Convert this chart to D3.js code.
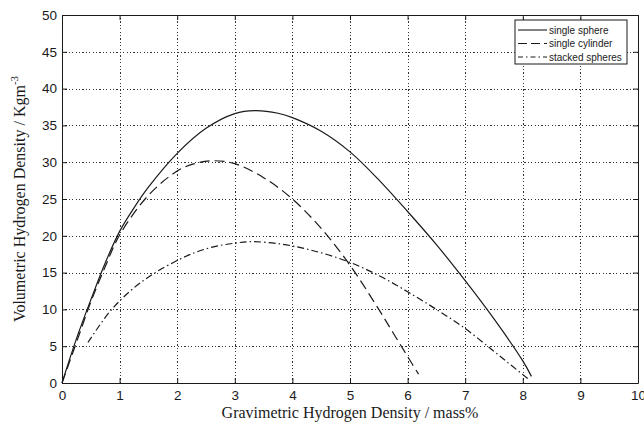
<!DOCTYPE html>
<html>
<head>
<meta charset="utf-8">
<script src="https://cdn.jsdelivr.net/npm/d3@7/dist/d3.min.js"></script>
<style>
  html, body { margin: 0; padding: 0; background: #fff; }
  svg { display: block; }
</style>
</head>
<body>
<svg id="chart" width="644" height="430"></svg>
<script>
// Gravimetric density (mass%) and volumetric density (kg m^-3) per storage geometry
const sphereX   = [0, 0.25, 0.5, 0.75, 1, 1.25, 1.5, 2, 2.5, 3, 3.35, 3.75, 4, 4.5, 5, 5.5, 6, 6.5, 7, 7.5, 8, 8.15];
const sphereY   = [0, 6, 11.3, 16.3, 20.6, 23.8, 26.6, 31.2, 34.6, 36.6, 37.0, 36.65, 36.05, 34.2, 31.4, 27.6, 23.3, 18.8, 13.9, 8.7, 3.0, 0.9];

const cylinderX = [0, 0.25, 0.5, 0.75, 1, 1.5, 2, 2.3, 2.63, 3, 3.5, 4, 4.5, 5, 5.5, 5.75, 6, 6.19];
const cylinderY = [0, 5.5, 11, 15.8, 20.1, 25.5, 28.8, 29.8, 30.2, 29.8, 27.9, 25.0, 21.0, 16.0, 10.0, 6.8, 3.6, 1.2];

const stackedX  = [0.45, 0.83, 1.2, 1.58, 1.99, 2.3, 2.63, 3.0, 3.3, 3.78, 4.3, 4.93, 5.5, 6.0, 6.5, 7.0, 7.5, 7.8, 8.12];
const stackedY  = [5.5, 9.7, 12.6, 14.8, 16.6, 17.7, 18.5, 19.0, 19.2, 18.9, 18.1, 16.6, 14.6, 12.4, 10.0, 7.4, 4.3, 2.4, 0.4];

const seriesNames = ["single sphere", "single cylinder", "stacked spheres"];
const xTicks = [0, 1, 2, 3, 4, 5, 6, 7, 8, 9, 10];
const yTicks = [0, 5, 10, 15, 20, 25, 30, 35, 40, 45, 50];

const svg = d3.select("#chart");
const m = { left: 62, right: 6, top: 15, bottom: 47 };
const W = 644, H = 430;
const x = d3.scaleLinear().domain([0, 10]).range([m.left, W - m.right]);
const y = d3.scaleLinear().domain([0, 50]).range([H - m.bottom, m.top]);
const ink = "#1a1a1a";

// dotted grid
const grid = svg.append("g").attr("stroke", "#333").attr("stroke-width", 1)
  .attr("stroke-dasharray", "1.2,2.2").attr("shape-rendering", "crispEdges");
grid.selectAll("line.gx").data(xTicks.slice(1, -1)).join("line")
  .attr("x1", d => Math.round(x(d)) + 0.5).attr("x2", d => Math.round(x(d)) + 0.5)
  .attr("y1", y(0)).attr("y2", y(50));
grid.selectAll("line.gy").data(yTicks.slice(1, -1)).join("line")
  .attr("y1", d => Math.round(y(d)) + 0.5).attr("y2", d => Math.round(y(d)) + 0.5)
  .attr("x1", x(0)).attr("x2", x(10));

// axes with inward ticks on all four sides
const font = "'Liberation Sans', Arial, sans-serif";
function styleAxis(g) {
  g.selectAll("path.domain").attr("stroke", ink).attr("stroke-width", 1);
  g.selectAll(".tick line").attr("stroke", ink);
  g.selectAll("text").attr("fill", ink).style("font-family", font).style("font-size", "13.5px");
}
svg.append("g").attr("transform", `translate(0,${y(0)})`)
  .call(d3.axisBottom(x).tickValues(xTicks).tickSizeInner(-5).tickSizeOuter(0).tickPadding(7))
  .call(styleAxis);
svg.append("g").attr("transform", `translate(${x(0)},0)`)
  .call(d3.axisLeft(y).tickValues(yTicks).tickSizeInner(-5).tickSizeOuter(0).tickPadding(5))
  .call(styleAxis);
svg.append("g").attr("transform", `translate(0,${y(50)})`)
  .call(d3.axisTop(x).tickValues(xTicks).tickSizeInner(-5).tickSizeOuter(0).tickFormat(""))
  .call(styleAxis);
svg.append("g").attr("transform", `translate(${x(10)},0)`)
  .call(d3.axisRight(y).tickValues(yTicks).tickSizeInner(-5).tickSizeOuter(0).tickFormat(""))
  .call(styleAxis);

// curves
const line = d3.line().x(d => x(d[0])).y(d => y(d[1])).curve(d3.curveCatmullRom.alpha(0.5));
const zip = (a, b) => a.map((v, i) => [v, b[i]]);
const dashes = [null, "10,5", "7,3,1.5,3"];
const data = [zip(sphereX, sphereY), zip(cylinderX, cylinderY), zip(stackedX, stackedY)];
svg.append("g").selectAll("path").data(data).join("path")
  .attr("d", line).attr("fill", "none").attr("stroke", ink).attr("stroke-width", 1.2)
  .attr("stroke-dasharray", (d, i) => dashes[i]);

// legend
const lg = svg.append("g").attr("transform", "translate(515,20)");
lg.append("rect").attr("width", 112).attr("height", 44)
  .attr("fill", "#fff").attr("stroke", ink).attr("stroke-width", 1);
const rows = lg.selectAll("g.row").data(seriesNames).join("g")
  .attr("transform", (d, i) => `translate(0,${10 + i * 13.5})`);
rows.append("line").attr("x1", 3).attr("x2", 32).attr("y1", 0).attr("y2", 0)
  .attr("stroke", ink).attr("stroke-width", 1.1)
  .attr("stroke-dasharray", (d, i) => i === 1 ? "9,4" : i === 2 ? "5,3,1.5,3" : null);
rows.append("text").attr("x", 34).attr("y", 3.5).text(d => d)
  .attr("fill", ink).style("font-family", font).style("font-size", "10px");

// axis titles
const serif = "'Liberation Serif', 'Times New Roman', serif";
svg.append("text").attr("x", x(5)).attr("y", 418).attr("text-anchor", "middle")
  .attr("fill", ink).style("font-family", serif).style("font-size", "16px")
  .text("Gravimetric Hydrogen Density / mass%");
const yt = svg.append("text").attr("transform", `translate(25,${y(25)}) rotate(-90)`)
  .attr("text-anchor", "middle").attr("fill", ink)
  .style("font-family", serif).style("font-size", "16px");
yt.append("tspan").text("Volumetric Hydrogen Density / Kgm");
yt.append("tspan").attr("dy", -7).style("font-size", "11px").text("-3");
</script>
</body>
</html>
